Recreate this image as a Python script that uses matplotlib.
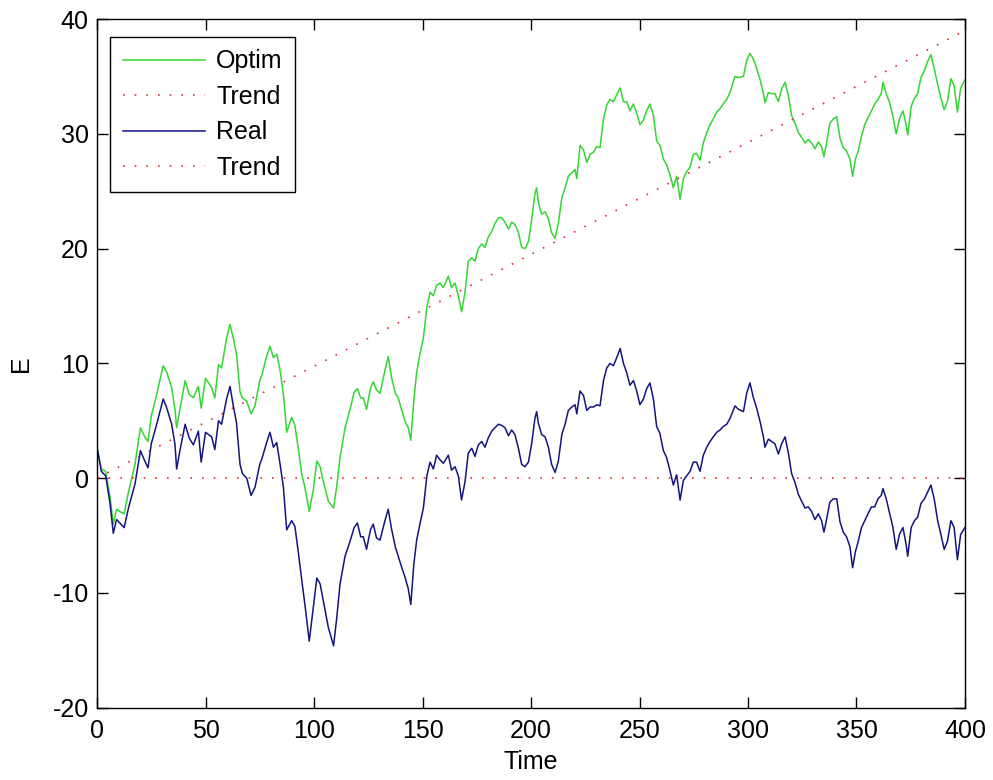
import matplotlib
matplotlib.use('Agg')
import matplotlib.pyplot as plt
from matplotlib import font_manager

# police proche de Helvetica (rendu MATLAB)
names = set(f.name for f in font_manager.fontManager.ttflist)
if 'Liberation Sans Narrow' in names:
    plt.rcParams['font.family'] = ['Liberation Sans Narrow', 'DejaVu Sans']
else:
    plt.rcParams['font.family'] = ['Liberation Sans', 'DejaVu Sans']
plt.rcParams['axes.unicode_minus'] = False

# temps et valeurs
t = [0, 2, 4, 6, 7.5, 9, 10.5, 12.5, 14.5, 17.5, 20, 22, 23.5, 25, 27.5, 30.5, 32, 34.4, 35.9, 36.7,
     38.2, 40.6, 42.5, 44.4, 46.7, 48, 50, 52.8, 54.3, 56, 57.4, 59.7, 61.3, 62.8, 64.3, 65.9, 67, 69,
     71, 72.8, 75, 76, 78, 79.7, 81.3, 82.8, 84.3, 85.9, 87.4, 89.7, 91.2, 92.8, 94.3, 95.8, 97.8,
     99.7, 101.3, 102.8, 104.3, 106.6, 109, 110.4, 112, 114.3, 116.6, 118.5, 120, 121.5, 122.7,
     124.2, 126, 127.3, 128.8, 130.4, 132.7, 134.2, 135.7, 137.5, 138.8, 140.3, 141.9, 143.4,
     144.6, 146, 147.3, 148.8, 150.4, 152, 153.5, 155, 156.5, 158.1, 159.6, 161.9, 163.4, 165,
     166.5, 168, 169.6, 171.1, 172.7, 174.2, 175.7, 177.3, 178.8, 180.3, 181.9, 183.4, 185, 186.5,
     188, 189.6, 191.1, 192.6, 194.2, 195.7, 197.2, 198.8, 200.3, 201.8, 202.6, 203.4, 204.9,
     206.5, 208, 209.5, 211.1, 212.6, 214.2, 215.7, 217.2, 218.8, 220.3, 221.1, 222.6, 224.2,
     225.7, 227.2, 228.8, 230.3, 231.8, 233.4, 234.9, 236.4, 238, 239.5, 241.1, 242.6, 244.1,
     245.6, 247.2, 248.7, 250.2, 251.8, 253.3, 254.8, 256.4, 257.9, 259.4, 261, 262.5, 264.1,
     265.6, 267.1, 268.7, 270.2, 271.7, 273.3, 274.8, 276.3, 277.9, 279.4, 281, 282.5, 284,
     285.6, 287.1, 288.6, 290.2, 291.7, 294, 295.6, 297.9, 299.4, 300.9, 302.5, 304, 305.6,
     307.1, 307.8, 309.4, 310.9, 312.4, 314, 315.5, 317.1, 318.6, 320.1, 321.7, 323.2, 324.7,
     326.3, 327.8, 329.3, 330.9, 332.4, 333.9, 335, 336.2, 337.7, 339.3, 340.9, 342.4, 343.9,
     345.4, 347, 348.2, 349.5, 350.8, 352.3, 353.8, 355.3, 356.9, 358.4, 359.9, 361.4, 362.2,
     363.7, 365.3, 366.8, 368.3, 369.8, 371.4, 372.9, 373.6, 375.2, 376.7, 378.2, 379.7, 381.3,
     382.8, 384.3, 385.8, 387.4, 388.9, 390.4, 391.9, 393.5, 395, 396.5, 398, 400]

real = [2.7, 0.6, 0.2, -2.2, -4.8, -3.6, -3.9, -4.3, -2.6, -0.5, 2.4, 1.5, 0.9, 3.0, 4.7, 6.9, 6.2,
        4.7, 3.0, 0.8, 2.4, 4.7, 3.5, 2.9, 4.1, 1.4, 4.0, 3.6, 2.5, 5.0, 4.7, 6.9, 8.0, 6.3, 4.8, 1.2,
        0.4, 0.0, -1.5, -0.8, 1.2, 1.7, 3.0, 4.0, 2.7, 3.1, 1.3, -0.8, -4.5, -3.7, -4.2, -6.5, -8.8,
        -11.0, -14.2, -11.2, -8.7, -9.2, -10.7, -13.0, -14.6, -12.3, -9.2, -6.8, -5.5, -4.3, -3.9,
        -5.1, -5.1, -6.2, -4.5, -4.0, -5.2, -5.4, -3.7, -2.7, -4.4, -6.0, -6.8, -7.7, -8.6, -9.6,
        -11.0, -7.5, -5.4, -4.0, -2.6, 0.2, 1.4, 0.8, 2.0, 1.6, 1.3, 2.0, 0.7, 1.0, 0.2, -1.9, -0.3,
        2.2, 2.6, 1.9, 2.9, 3.2, 2.7, 3.5, 4.1, 4.4, 4.7, 4.6, 4.4, 3.7, 4.2, 3.8, 2.6, 1.2, 1.0,
        1.4, 3.0, 5.2, 5.8, 4.8, 3.8, 3.6, 2.7, 1.2, 0.5, 1.5, 3.8, 4.7, 5.9, 6.2, 6.4, 5.6, 7.6,
        7.2, 5.9, 6.2, 6.2, 6.4, 6.3, 8.5, 9.6, 10.0, 9.8, 10.5, 11.3, 10.0, 9.2, 8.1, 8.5, 7.6,
        6.4, 6.9, 7.8, 8.3, 6.9, 4.5, 3.9, 2.4, 1.8, 0.6, -0.6, 0.3, -1.9, -0.2, 0.2, 0.6, 1.4,
        1.4, 0.6, 2.0, 2.7, 3.2, 3.6, 4.0, 4.2, 4.5, 4.7, 5.2, 6.3, 6.0, 5.8, 7.4, 8.3, 7.0, 6.1,
        4.9, 3.6, 2.7, 3.4, 3.2, 3.0, 2.1, 3.0, 3.6, 2.2, 0.4, -0.4, -1.4, -2.0, -2.6, -2.5, -2.9,
        -3.6, -3.1, -3.7, -4.7, -3.6, -2.1, -1.8, -1.8, -3.8, -4.7, -5.1, -6.0, -7.8, -6.4, -5.5,
        -4.3, -3.7, -3.1, -2.5, -2.5, -1.8, -1.5, -0.9, -1.8, -3.1, -4.3, -6.2, -4.9, -4.3, -5.8,
        -6.8, -4.3, -3.7, -3.4, -2.2, -1.8, -1.2, -0.6, -1.8, -3.7, -4.9, -6.2, -5.5, -3.7, -4.3,
        -7.1, -4.9, -4.3]

optim = [2.7, 0.8, 0.6, -1.6, -4.0, -2.7, -2.9, -3.1, -1.2, 1.2, 4.4, 3.6, 3.2, 5.4, 7.3, 9.8, 9.3,
         7.9, 6.0, 4.4, 6.0, 8.5, 7.3, 7.0, 8.0, 6.1, 8.7, 7.9, 7.0, 9.9, 9.6, 12.2, 13.4, 12.2, 10.8,
         7.5, 7.0, 6.7, 5.6, 6.3, 8.5, 9.0, 10.5, 11.5, 10.5, 10.8, 9.5, 7.3, 4.0, 5.3, 4.6, 2.5, 0.4,
         -0.8, -2.9, -1.0, 1.5, 1.0, -0.3, -2.0, -2.6, -0.8, 1.8, 4.4, 6.0, 7.5, 7.8, 7.0, 7.0, 6.0,
         7.8, 8.4, 7.7, 7.4, 9.4, 10.6, 8.8, 7.4, 7.0, 6.0, 5.0, 4.4, 3.3, 6.8, 9.2, 10.8, 12.2, 14.9,
         16.2, 15.9, 16.8, 17.0, 16.6, 17.6, 16.6, 17.0, 15.9, 14.5, 16.2, 18.9, 19.2, 18.9, 20.0,
         20.4, 20.1, 21.0, 21.5, 22.2, 22.7, 22.7, 22.3, 21.7, 22.3, 22.1, 21.4, 20.1, 20.0, 20.6,
         22.5, 24.8, 25.3, 24.0, 23.0, 23.2, 22.6, 21.4, 20.9, 22.2, 24.4, 25.3, 26.3, 26.6, 26.9,
         26.1, 29.0, 28.6, 27.5, 28.2, 28.4, 28.9, 28.8, 31.3, 32.5, 33.0, 32.8, 33.4, 34.0, 32.8,
         32.8, 32.0, 32.6, 31.8, 30.8, 31.2, 32.0, 32.6, 31.6, 29.4, 29.0, 27.8, 27.3, 26.4, 25.3,
         26.3, 24.3, 26.1, 26.7, 27.1, 28.2, 28.3, 27.7, 29.2, 30.1, 30.8, 31.3, 31.9, 32.2, 32.6,
         33.0, 33.6, 35.0, 34.9, 35.0, 36.4, 37.0, 36.5, 35.7, 34.7, 33.5, 32.7, 33.6, 33.5, 33.5,
         32.8, 33.9, 34.5, 33.3, 31.6, 30.9, 30.1, 29.7, 29.2, 29.5, 29.2, 28.7, 29.3, 28.9, 28.0,
         29.2, 30.9, 31.3, 31.5, 29.6, 28.8, 28.5, 27.8, 26.3, 27.8, 28.5, 29.8, 30.8, 31.4, 32.0,
         32.6, 33.0, 33.5, 34.5, 33.5, 32.7, 31.5, 30.0, 31.3, 32.0, 30.8, 29.9, 32.4, 33.1, 33.5,
         34.9, 35.5, 36.3, 36.9, 35.7, 34.3, 33.1, 32.1, 32.8, 34.8, 34.2, 31.9, 34.0, 34.7]

trend_t = [0, 400]
trend_optim = [0, 39]
trend_real = [0, 0]

fig = plt.figure(figsize=(9.93, 7.8), dpi=100)
ax = fig.add_axes([0.0977, 0.0926, 0.8741, 0.8830])

ax.plot(t, optim, color='#33d633', lw=1.1, label='Optim')
ax.plot(trend_t, trend_optim, color='#d83030', lw=1.2, ls=(0, (1, 6)), label='Trend')
ax.plot(t, real, color='#141480', lw=1.1, label='Real')
ax.plot(trend_t, trend_real, color='#d83030', lw=1.2, ls=(0, (1, 6)), label='Trend')

ax.set_xlim(0, 400)
ax.set_ylim(-20, 40)
ax.set_xticks(range(0, 401, 50))
ax.set_yticks(range(-20, 41, 10))
ax.tick_params(direction='in', length=8, width=1, top=True, right=True, labelsize=18)
ax.tick_params(axis='x', pad=8)
ax.tick_params(axis='y', pad=6)
for s in ax.spines.values():
    s.set_linewidth(1)
ax.set_xlabel('Time', fontsize=18, labelpad=5)
ax.set_ylabel('E', fontsize=18, labelpad=14)

leg = ax.legend(loc='upper left', bbox_to_anchor=(0.015, 0.974), fontsize=18,
                handlelength=3.3, handletextpad=0.45, labelspacing=0.46,
                borderpad=0.5, borderaxespad=0, fancybox=False, framealpha=1)
leg.get_frame().set_edgecolor('black')
leg.get_frame().set_linewidth(1)

fig.savefig('out.png', dpi=100)
